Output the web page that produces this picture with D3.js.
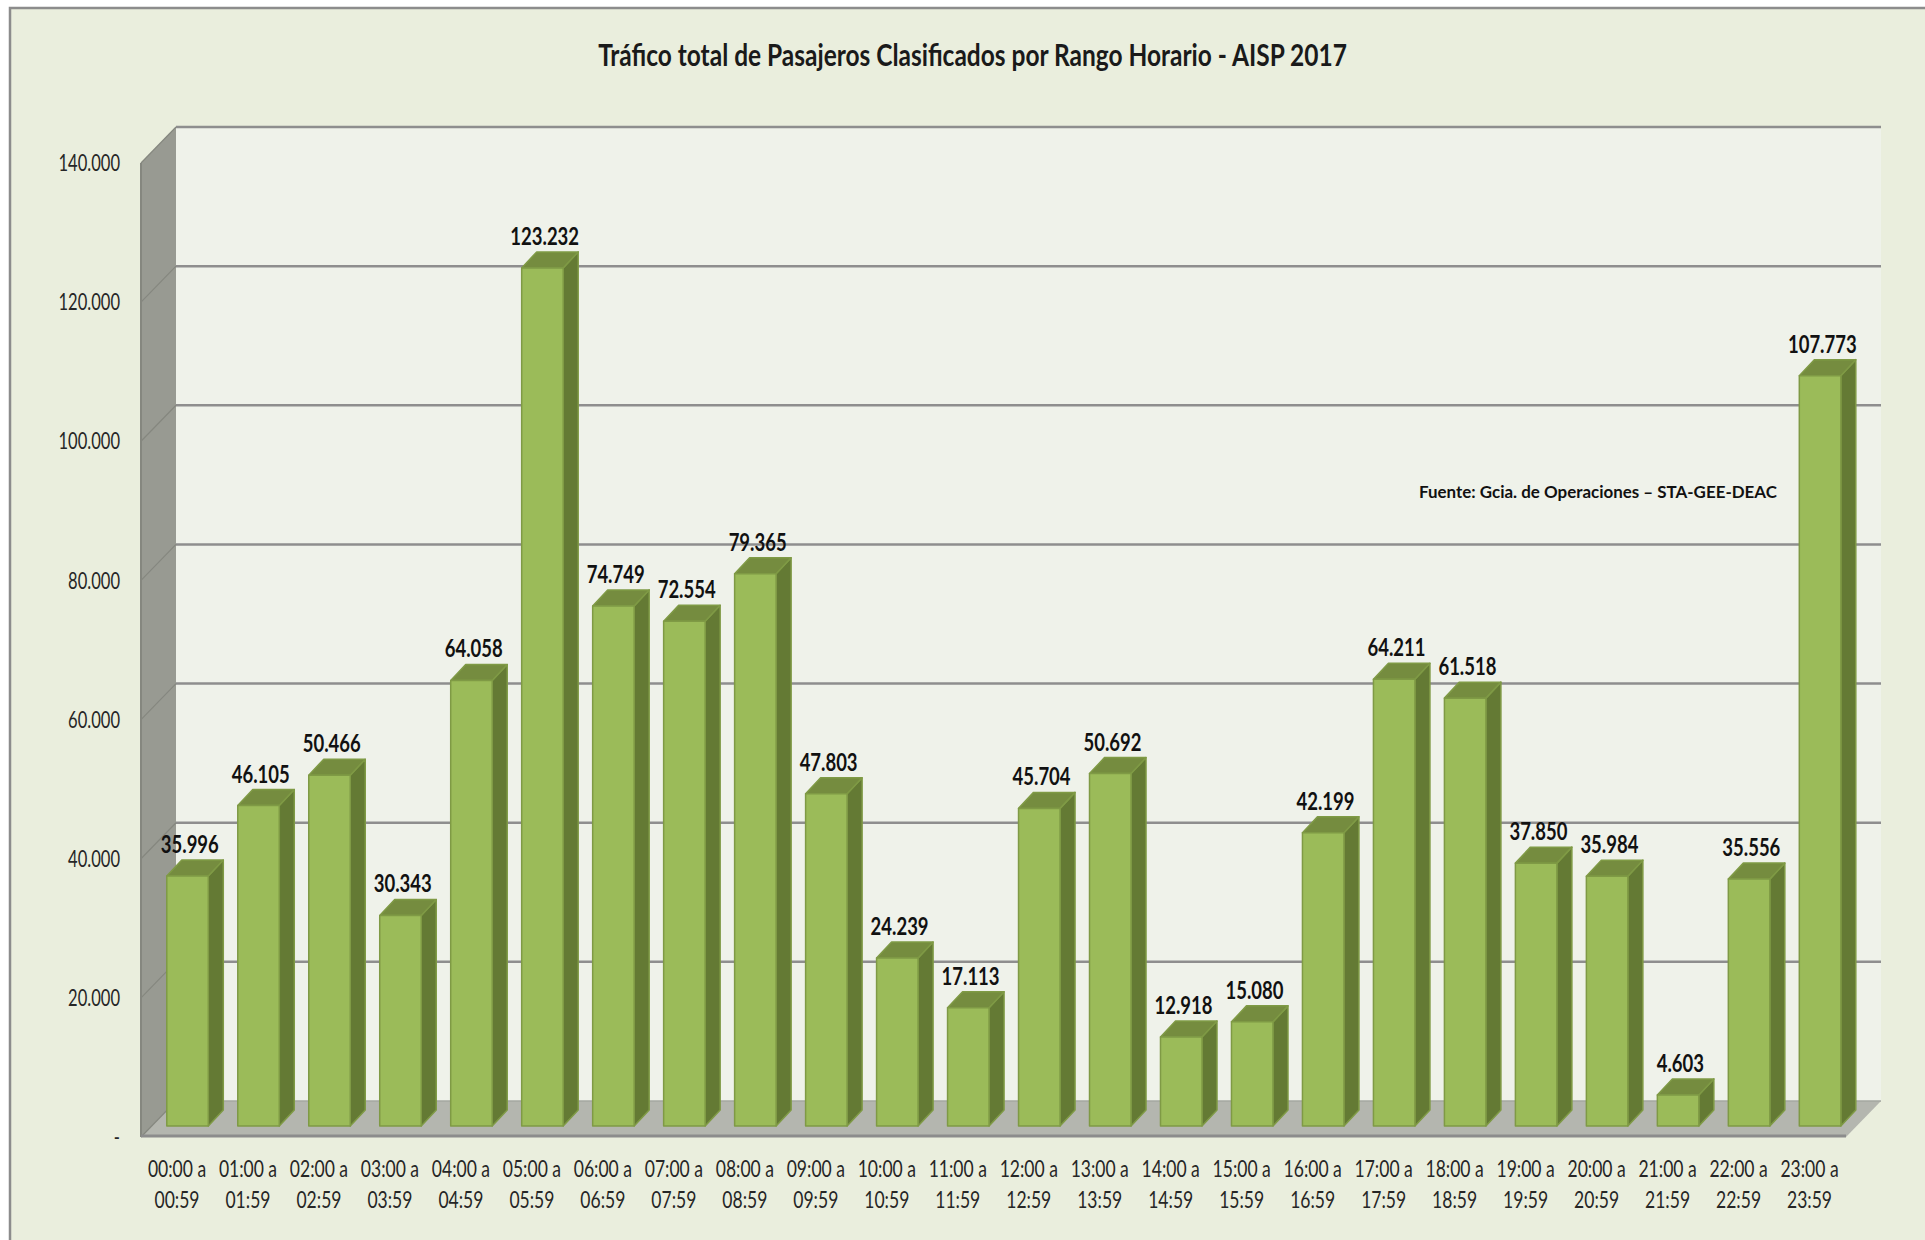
<!DOCTYPE html>
<html lang="es">
<head>
<meta charset="utf-8">
<title>Tráfico total de Pasajeros</title>
<script src="https://d3js.org/d3.v7.min.js"></script>
<style>
  html, body { margin: 0; padding: 0; background: #fff; overflow: hidden; }
  svg { display: block; }
  text { font-family: Lato, "Liberation Sans", sans-serif; }
  .tick text { font-family: Lato, "Liberation Sans", sans-serif; }
</style>
</head>
<body>
<script>
var horaDesde = ["00:00 a","01:00 a","02:00 a","03:00 a","04:00 a","05:00 a","06:00 a","07:00 a","08:00 a","09:00 a","10:00 a","11:00 a","12:00 a","13:00 a","14:00 a","15:00 a","16:00 a","17:00 a","18:00 a","19:00 a","20:00 a","21:00 a","22:00 a","23:00 a"];
var horaHasta = ["00:59","01:59","02:59","03:59","04:59","05:59","06:59","07:59","08:59","09:59","10:59","11:59","12:59","13:59","14:59","15:59","16:59","17:59","18:59","19:59","20:59","21:59","22:59","23:59"];
var pasajeros = [35996,46105,50466,30343,64058,123232,74749,72554,79365,47803,24239,17113,45704,50692,12918,15080,42199,64211,61518,37850,35984,4603,35556,107773];
var yTicks = [0,20000,40000,60000,80000,100000,120000,140000];
var titulo = "Tráfico total de Pasajeros Clasificados por Rango Horario - AISP 2017";
var fuente = "Fuente: Gcia. de Operaciones – STA-GEE-DEAC";

var width = 1925, height = 1240;

// front edge of the floor, and how far the back wall is pushed
var left = 141, right = 1846, bottom = 1137, top3d = 163;
var depthX = 35, depthY = 36;
var barDepthX = 15, barDepthY = 16, barW = 41.5;

var locale = d3.formatLocale({ decimal: ",", thousands: ".", grouping: [3], currency: ["", ""] });
var fmt = locale.format(",d");

var x = d3.scaleBand().domain(d3.range(pasajeros.length)).range([141.5, 1845]);
var y = d3.scaleLinear().domain([0, 140000]).range([bottom, top3d]);
// bars stand a bit into the floor
var yBar = d3.scaleLinear().domain([0, 140000]).range([1127, 151]);

// the original font is a squeezed one, so squeeze the text horizontally around its x
function squeeze(sel, k) {
    sel.each(function () {
        var px = +this.getAttribute("x") || 0;
        var f = typeof k === "function" ? k(this) : k;
        this.setAttribute("x", 0);
        this.setAttribute("transform", "translate(" + px + ",0) scale(" + f + ",1)");
    });
}
function fitTo(w) {
    return function (node) { return w / node.getComputedTextLength(); };
}

var svg = d3.select("body").append("svg")
    .attr("width", width)
    .attr("height", height);

// outer frame
svg.append("rect")
    .attr("x", 10).attr("y", 8)
    .attr("width", width).attr("height", height)
    .attr("fill", "#eaeedd")
    .attr("stroke", "#8c8c8c")
    .attr("stroke-width", 2.5);

svg.append("text")
    .attr("x", 972.5).attr("y", 66)
    .attr("text-anchor", "middle")
    .attr("font-size", 31)
    .attr("font-weight", "bold")
    .attr("fill", "#1a1a1a")
    .text(titulo)
    .call(squeeze, fitTo(749));

// back wall
svg.append("rect")
    .attr("x", left + depthX).attr("y", y(140000) - depthY)
    .attr("width", right - left).attr("height", bottom - top3d)
    .attr("fill", "#eff2ea");

// side wall
svg.append("path")
    .attr("d", d3.line()([[left, y(140000)], [left + depthX, y(140000) - depthY], [left + depthX, bottom - depthY], [left, bottom]]) + "Z")
    .attr("fill", "#989a92");

// floor
svg.append("path")
    .attr("d", d3.line()([[left, bottom], [left + depthX, bottom - depthY], [right + depthX, bottom - depthY], [right, bottom]]) + "Z")
    .attr("fill", "#b4b6af");

// grid on back wall + slanted bit on the side wall
var grid = svg.append("g").selectAll("g").data(yTicks).enter().append("g");
grid.filter(function (d) { return d > 0; }).append("line")
    .attr("x1", left + depthX).attr("x2", right + depthX)
    .attr("y1", function (d) { return y(d) - depthY; })
    .attr("y2", function (d) { return y(d) - depthY; })
    .attr("stroke", "#8e8e8e")
    .attr("stroke-width", 2.5);
grid.append("line")
    .attr("x1", left).attr("x2", left + depthX)
    .attr("y1", function (d) { return y(d); })
    .attr("y2", function (d) { return y(d) - depthY; })
    .attr("stroke", "#85877f")
    .attr("stroke-width", 1.2);

// wall and floor edges
svg.append("line")
    .attr("x1", left).attr("x2", left).attr("y1", top3d).attr("y2", bottom)
    .attr("stroke", "#85877f").attr("stroke-width", 2);
svg.append("line")
    .attr("x1", left).attr("x2", right).attr("y1", bottom - 1).attr("y2", bottom - 1)
    .attr("stroke", "#8c8c8c").attr("stroke-width", 3);
svg.append("line")
    .attr("x1", left + depthX).attr("x2", right + depthX).attr("y1", bottom - depthY).attr("y2", bottom - depthY)
    .attr("stroke", "#a5a7a0").attr("stroke-width", 1.5);

// bars
function barX(i) { return x(i) + x.bandwidth() / 2 - 10.2; }
var barBottom = 1126;

var bars = svg.append("g").selectAll("g").data(pasajeros).enter().append("g")
    .attr("stroke", "#7f9a45")
    .attr("stroke-width", 1.5)
    .attr("stroke-linejoin", "round");

bars.append("path") // side
    .attr("fill", "#647a34")
    .attr("d", function (d, i) {
        var a = barX(i) + barW;
        return d3.line()([[a, yBar(d)], [a + barDepthX, yBar(d) - barDepthY], [a + barDepthX, barBottom - barDepthY], [a, barBottom]]) + "Z";
    });
bars.append("path") // top
    .attr("fill", "#758c3f")
    .attr("d", function (d, i) {
        var a = barX(i), t = yBar(d);
        return d3.line()([[a, t], [a + barDepthX, t - barDepthY], [a + barW + barDepthX, t - barDepthY], [a + barW, t]]) + "Z";
    });
bars.append("rect") // front
    .attr("fill", "#9bbb59")
    .attr("x", function (d, i) { return barX(i); })
    .attr("y", yBar)
    .attr("width", barW)
    .attr("height", function (d) { return barBottom - yBar(d); });

// value labels
svg.append("g").selectAll("text").data(pasajeros).enter().append("text")
    .attr("x", function (d, i) { return barX(i) + 23; })
    .attr("y", function (d) { return yBar(d) - barDepthY - 7; })
    .attr("text-anchor", "middle")
    .attr("font-size", 24)
    .attr("font-weight", "bold")
    .attr("fill", "#111")
    .text(fmt)
    .call(squeeze, 0.77);

// axes
var yAxis = d3.axisLeft(y).tickValues(yTicks).tickSize(0).tickPadding(21)
    .tickFormat(function (d) { return d === 0 ? "-" : fmt(d); });
var gy = svg.append("g").attr("transform", "translate(" + left + ",0)").call(yAxis);
gy.select(".domain").remove();
gy.selectAll("text").attr("font-size", 24).attr("fill", "#262626").call(squeeze, 0.69);

var xAxis = d3.axisBottom(x).tickSize(0).tickFormat(function (d) { return horaDesde[d]; });
var gx = svg.append("g").attr("transform", "translate(0," + bottom + ")").call(xAxis);
gx.select(".domain").remove();
gx.selectAll(".tick text").attr("y", 40).attr("dy", null)
    .attr("font-size", 24).attr("fill", "#262626").call(squeeze, 0.73);
gx.selectAll(".tick").append("text")
    .attr("y", 71)
    .attr("text-anchor", "middle")
    .attr("font-size", 24)
    .attr("fill", "#262626")
    .text(function (d) { return horaHasta[d]; })
    .call(squeeze, 0.73);

svg.append("text")
    .attr("x", 1419).attr("y", 498)
    .attr("font-size", 17)
    .attr("font-weight", "bold")
    .attr("fill", "#111")
    .text(fuente)
    .call(squeeze, fitTo(358));
</script>
</body>
</html>
